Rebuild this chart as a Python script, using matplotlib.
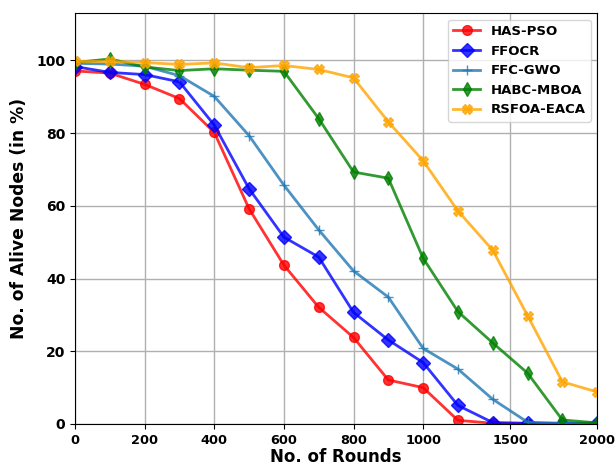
import numpy as np
import matplotlib.pyplot as plt

rounds = [0, 100, 200, 300, 400, 500, 600, 700, 800, 900, 1000,
          1200, 1400, 1600, 1800, 2000]

has_pso = [97.1, 96.5, 93.4, 89.5, 80.2, 59.2, 43.7, 32.1, 23.8, 12.1, 10.0,
           1.0, 0.2, 0.0, 0.0, 0.0]
ffocr = [98.3, 96.7, 96.1, 94.1, 82.2, 64.7, 51.4, 45.9, 30.7, 23.1, 16.9,
         5.1, 0.4, 0.2, 0.1, 0.3]
ffc_gwo = [99.2, 99.0, 98.4, 95.8, 90.1, 79.3, 65.7, 53.4, 42.1, 34.9, 20.8,
           15.1, 6.8, 0.5, 0.2, 0.1]
habc_mboa = [99.4, 100.4, 98.2, 97.2, 97.7, 97.3, 97.0, 84.0, 69.3, 67.6, 45.6,
             30.9, 22.3, 14.0, 1.1, 0.3]
rsfoa_eaca = [99.7, 99.7, 99.4, 98.9, 99.3, 98.0, 98.6, 97.5, 95.2, 83.1, 72.4,
              58.6, 47.8, 29.8, 11.6, 8.8]

tick_labels = [0, 200, 400, 600, 800, 1000, 1500, 2000]

series = [
    ('HAS-PSO', has_pso, 'red', 'o'),
    ('FFOCR', ffocr, 'blue', 'D'),
    ('FFC-GWO', ffc_gwo, '#1f77b4', '+'),
    ('HABC-MBOA', habc_mboa, 'green', 'd'),
    ('RSFOA-EACA', rsfoa_eaca, 'orange', 'X'),
]

# points are evenly spaced regardless of round value
x = np.arange(len(rounds))
tick_pos = np.interp(tick_labels, rounds, x)

fig, ax = plt.subplots(figsize=(6.15, 4.69), dpi=100)
fig.subplots_adjust(left=0.122, right=0.971, bottom=0.096, top=0.972)

for name, vals, color, marker in series:
    ax.plot(x, vals, color=color, marker=marker, markersize=7, linewidth=2,
            alpha=0.8, label=name)

ax.set_xlim(0, len(rounds) - 1)
ax.set_ylim(0, 113)
ax.set_xticks(tick_pos)
ax.set_xticklabels([str(t) for t in tick_labels], fontsize=9.3, fontweight='bold')
ax.set_yticks([0, 20, 40, 60, 80, 100])
ax.set_yticklabels(['0', '20', '40', '60', '80', '100'], fontsize=10, fontweight='bold')
ax.grid(True, color='#b0b0b0', linewidth=1)
ax.set_xlabel('No. of Rounds', fontsize=12, fontweight='bold', labelpad=1)
ax.set_ylabel('No. of Alive Nodes (in %)', fontsize=12.3, fontweight='bold', labelpad=6)
ax.legend(loc='upper right', prop={'size': 9.5, 'weight': 'bold'})

fig.savefig('out.png', dpi=100)
